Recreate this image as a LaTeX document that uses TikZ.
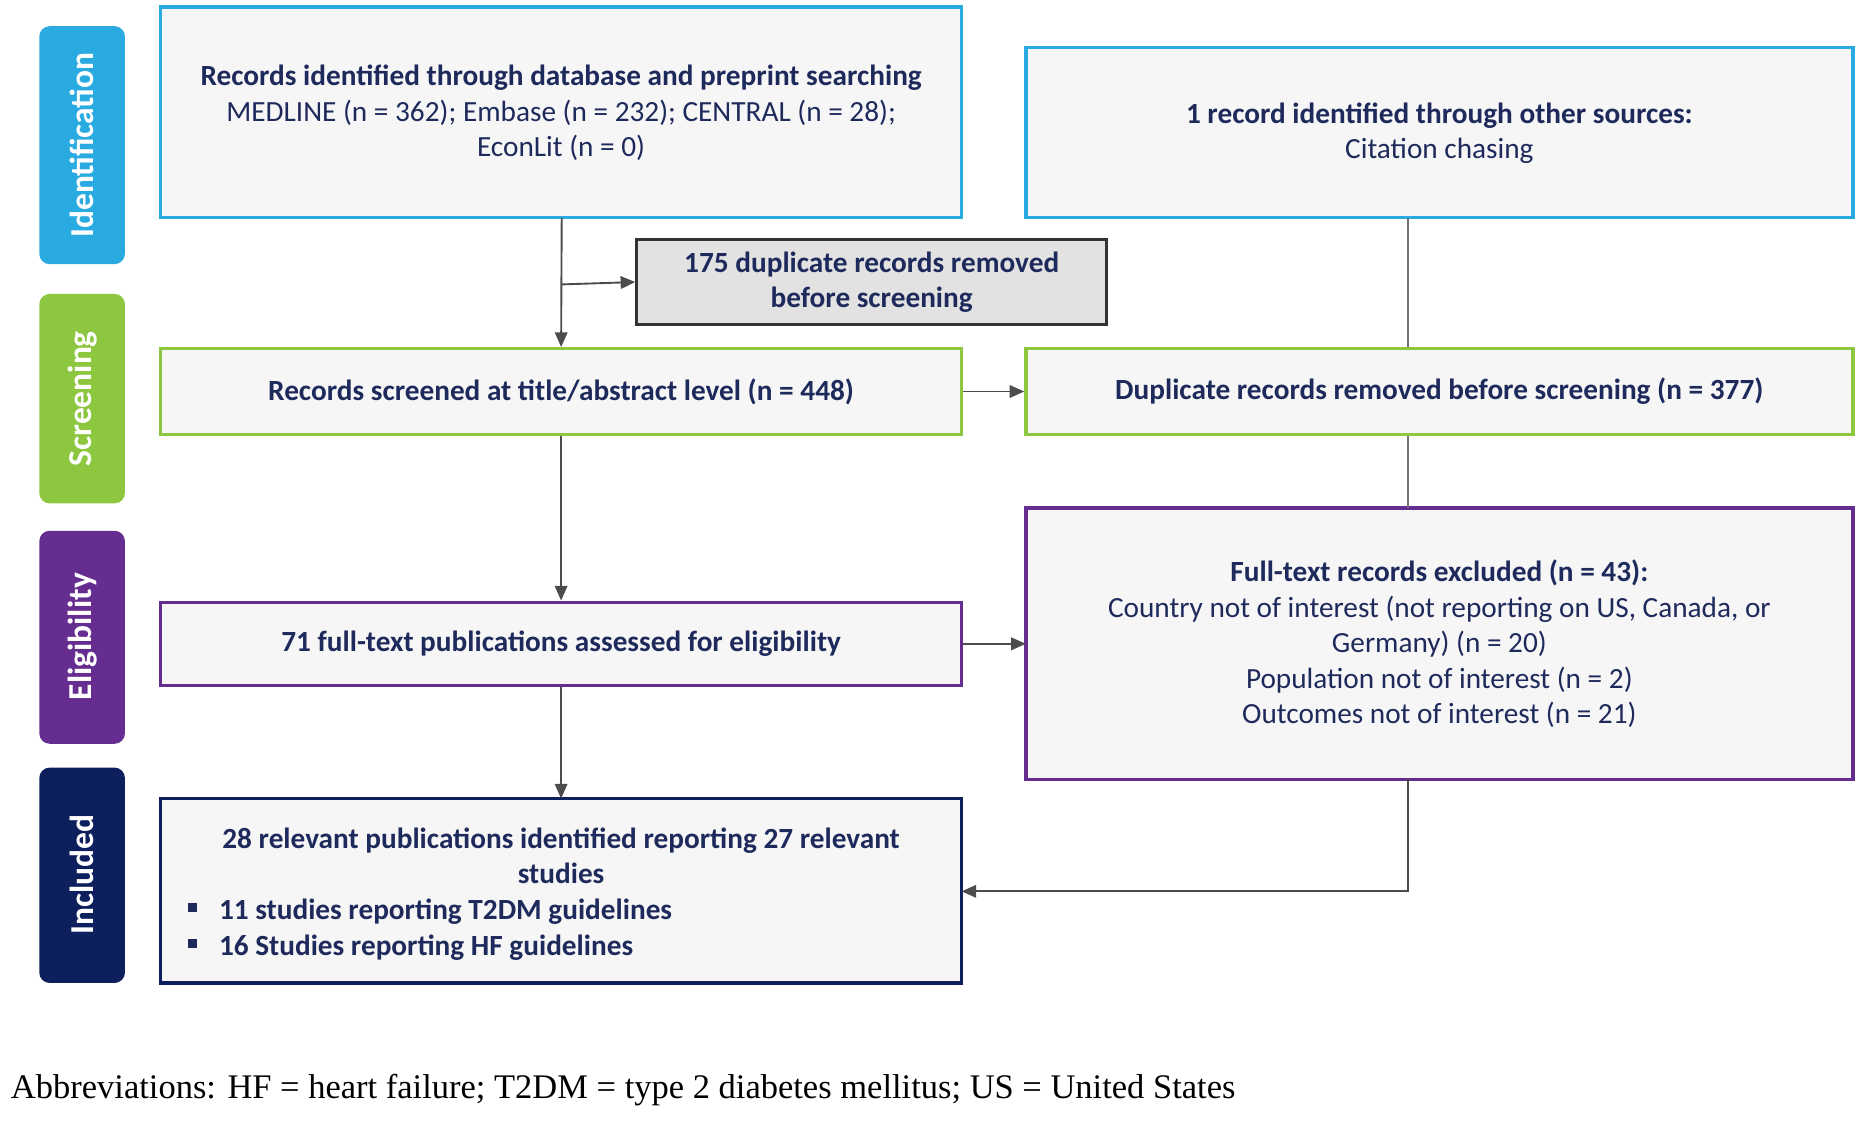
\documentclass[tikz,border=0pt]{standalone}
\usepackage{fontspec}
\setmainfont{Carlito}
\newfontfamily\capfont{Liberation Serif}
\usetikzlibrary{arrows.meta,positioning}
\definecolor{cyanc}{HTML}{29ABE2}
\definecolor{greenc}{HTML}{8DC63F}
\definecolor{purplec}{HTML}{662D91}
\definecolor{navyc}{HTML}{0D1F5C}
\definecolor{txt}{HTML}{1F2A5C}
\definecolor{boxfill}{HTML}{F6F6F6}
\definecolor{dupfill}{HTML}{E2E2E2}
\newcommand{\bsq}{\rlap{\raisebox{0.25em}{\rule{0.3em}{0.3em}}}}
\begin{document}
\begin{tikzpicture}[x=0.02cm,y=-0.02cm,
  box/.style={draw,line width=1.6pt,fill=boxfill,inner sep=0,text=txt,align=center,font=\fontsize{14}{17}\selectfont},
  side/.style={rounded corners=5pt,inner sep=0},
  sidetxt/.style={text=white,font=\fontsize{16}{18}\selectfont\bfseries,rotate=90},
  arr/.style={draw=black!70,line width=0.9pt,-{Triangle[length=7pt,width=6pt]}},
  ln/.style={draw=black!55,line width=0.9pt}]
\useasboundingbox (0,0) rectangle (1568,945);
% side bars
\fill[cyanc,side] (33,22) rectangle (105,222);
\node[sidetxt] (s1) at (69,122) {Identification};
\fill[greenc,side] (33,247) rectangle (105,423);
\node[sidetxt] (s2) at (69,335) {Screening};
\fill[purplec,side] (33,446) rectangle (105,625);
\node[sidetxt] (s3) at (69,535) {Eligibility};
\fill[navyc,side] (33,645) rectangle (105,826);
\node[sidetxt] (s4) at (69,735) {Included};
% boxes
\draw[box,draw=cyanc] (135,6) rectangle (808,183);
\node[text=txt,align=center,font=\fontsize{14}{17}\selectfont] (b1) at (471.5,95) {\textbf{Records identified through database and preprint searching}\\MEDLINE (n = 362); Embase (n = 232); CENTRAL (n = 28);\\EconLit (n = 0)};
\coordinate (b1b) at (472,183);
\draw[box,draw=cyanc] (862,40) rectangle (1557,183);
\node[text=txt,align=center,font=\fontsize{14}{17}\selectfont] (b2) at (1209.5,112) {\textbf{1 record identified through other sources:}\\Citation chasing};
\coordinate (b2b) at (1183,183);
\node[box,draw=black!80,fill=dupfill,line width=1.4pt,minimum width=7.9cm,minimum height=1.44cm,font=\fontsize{14}{17}\selectfont\bfseries] (dup) at (732.5,237) {175 duplicate records removed\\before screening};
\node[box,draw=greenc,minimum width=13.46cm,minimum height=1.44cm,font=\fontsize{14}{17}\selectfont\bfseries] (scr) at (471.5,329) {Records screened at title/abstract level (n = 448)};
\node[box,draw=greenc,minimum width=13.9cm,minimum height=1.44cm,font=\fontsize{14}{17}\selectfont\bfseries] (dup2) at (1209.5,329) {Duplicate records removed before screening (n = 377)};
\node[box,draw=purplec,minimum width=13.46cm,minimum height=1.4cm,font=\fontsize{14}{17}\selectfont\bfseries] (elig) at (471.5,541) {71 full-text publications assessed for eligibility};
\draw[box,draw=purplec] (862,427) rectangle (1557,655);
\node[text=txt,align=center,font=\fontsize{14}{17}\selectfont] (exc) at (1209.5,541) {\textbf{Full-text records excluded (n = 43):}\\Country not of interest (not reporting on US, Canada, or\\Germany) (n = 20)\\Population not of interest (n = 2)\\Outcomes not of interest (n = 21)};
\coordinate (excb) at (1183,655);
\coordinate (exct) at (1183,427);
\coordinate (excl) at (862,541);
\draw[box,draw=navyc] (135,671) rectangle (808,826);
\node[text=txt,align=center,font=\fontsize{14}{17}\selectfont\bfseries] (inc) at (471.5,719) {28 relevant publications identified reporting 27 relevant\\studies};
\node[text=txt,align=left,anchor=west,font=\fontsize{14}{17}\selectfont\bfseries] (incl) at (152,781) {\bsq\hspace{1.05em}11 studies reporting T2DM guidelines\\\bsq\hspace{1.05em}16 Studies reporting HF guidelines};
\coordinate (incr) at (808,749);
\coordinate (corner) at (1183,749);
\coordinate (br) at (472,239);
% connectors
\draw[arr] (b1b) -- (scr.north);
\draw[arr] (br) -- (dup.west);
\draw[arr] (scr.south) -- (elig.north);
\draw[arr] (elig.south) -- (471.5,671);
\draw[arr] (scr.east) -- (dup2.west);
\draw[arr] (elig.east) -- (excl);
\draw[ln] (b2b) -- (b2b |- dup2.north);
\draw[ln] (b2b |- dup2.south) -- (exct);
\draw[arr] (excb) -- (corner) -- (incr);
% caption
\node[anchor=west,font=\capfont\fontsize{16.5}{18}\selectfont] (cap) at (3,916) {Abbreviations: HF = heart failure; T2DM = type 2 diabetes mellitus; US = United States};
\end{tikzpicture}
\end{document}
